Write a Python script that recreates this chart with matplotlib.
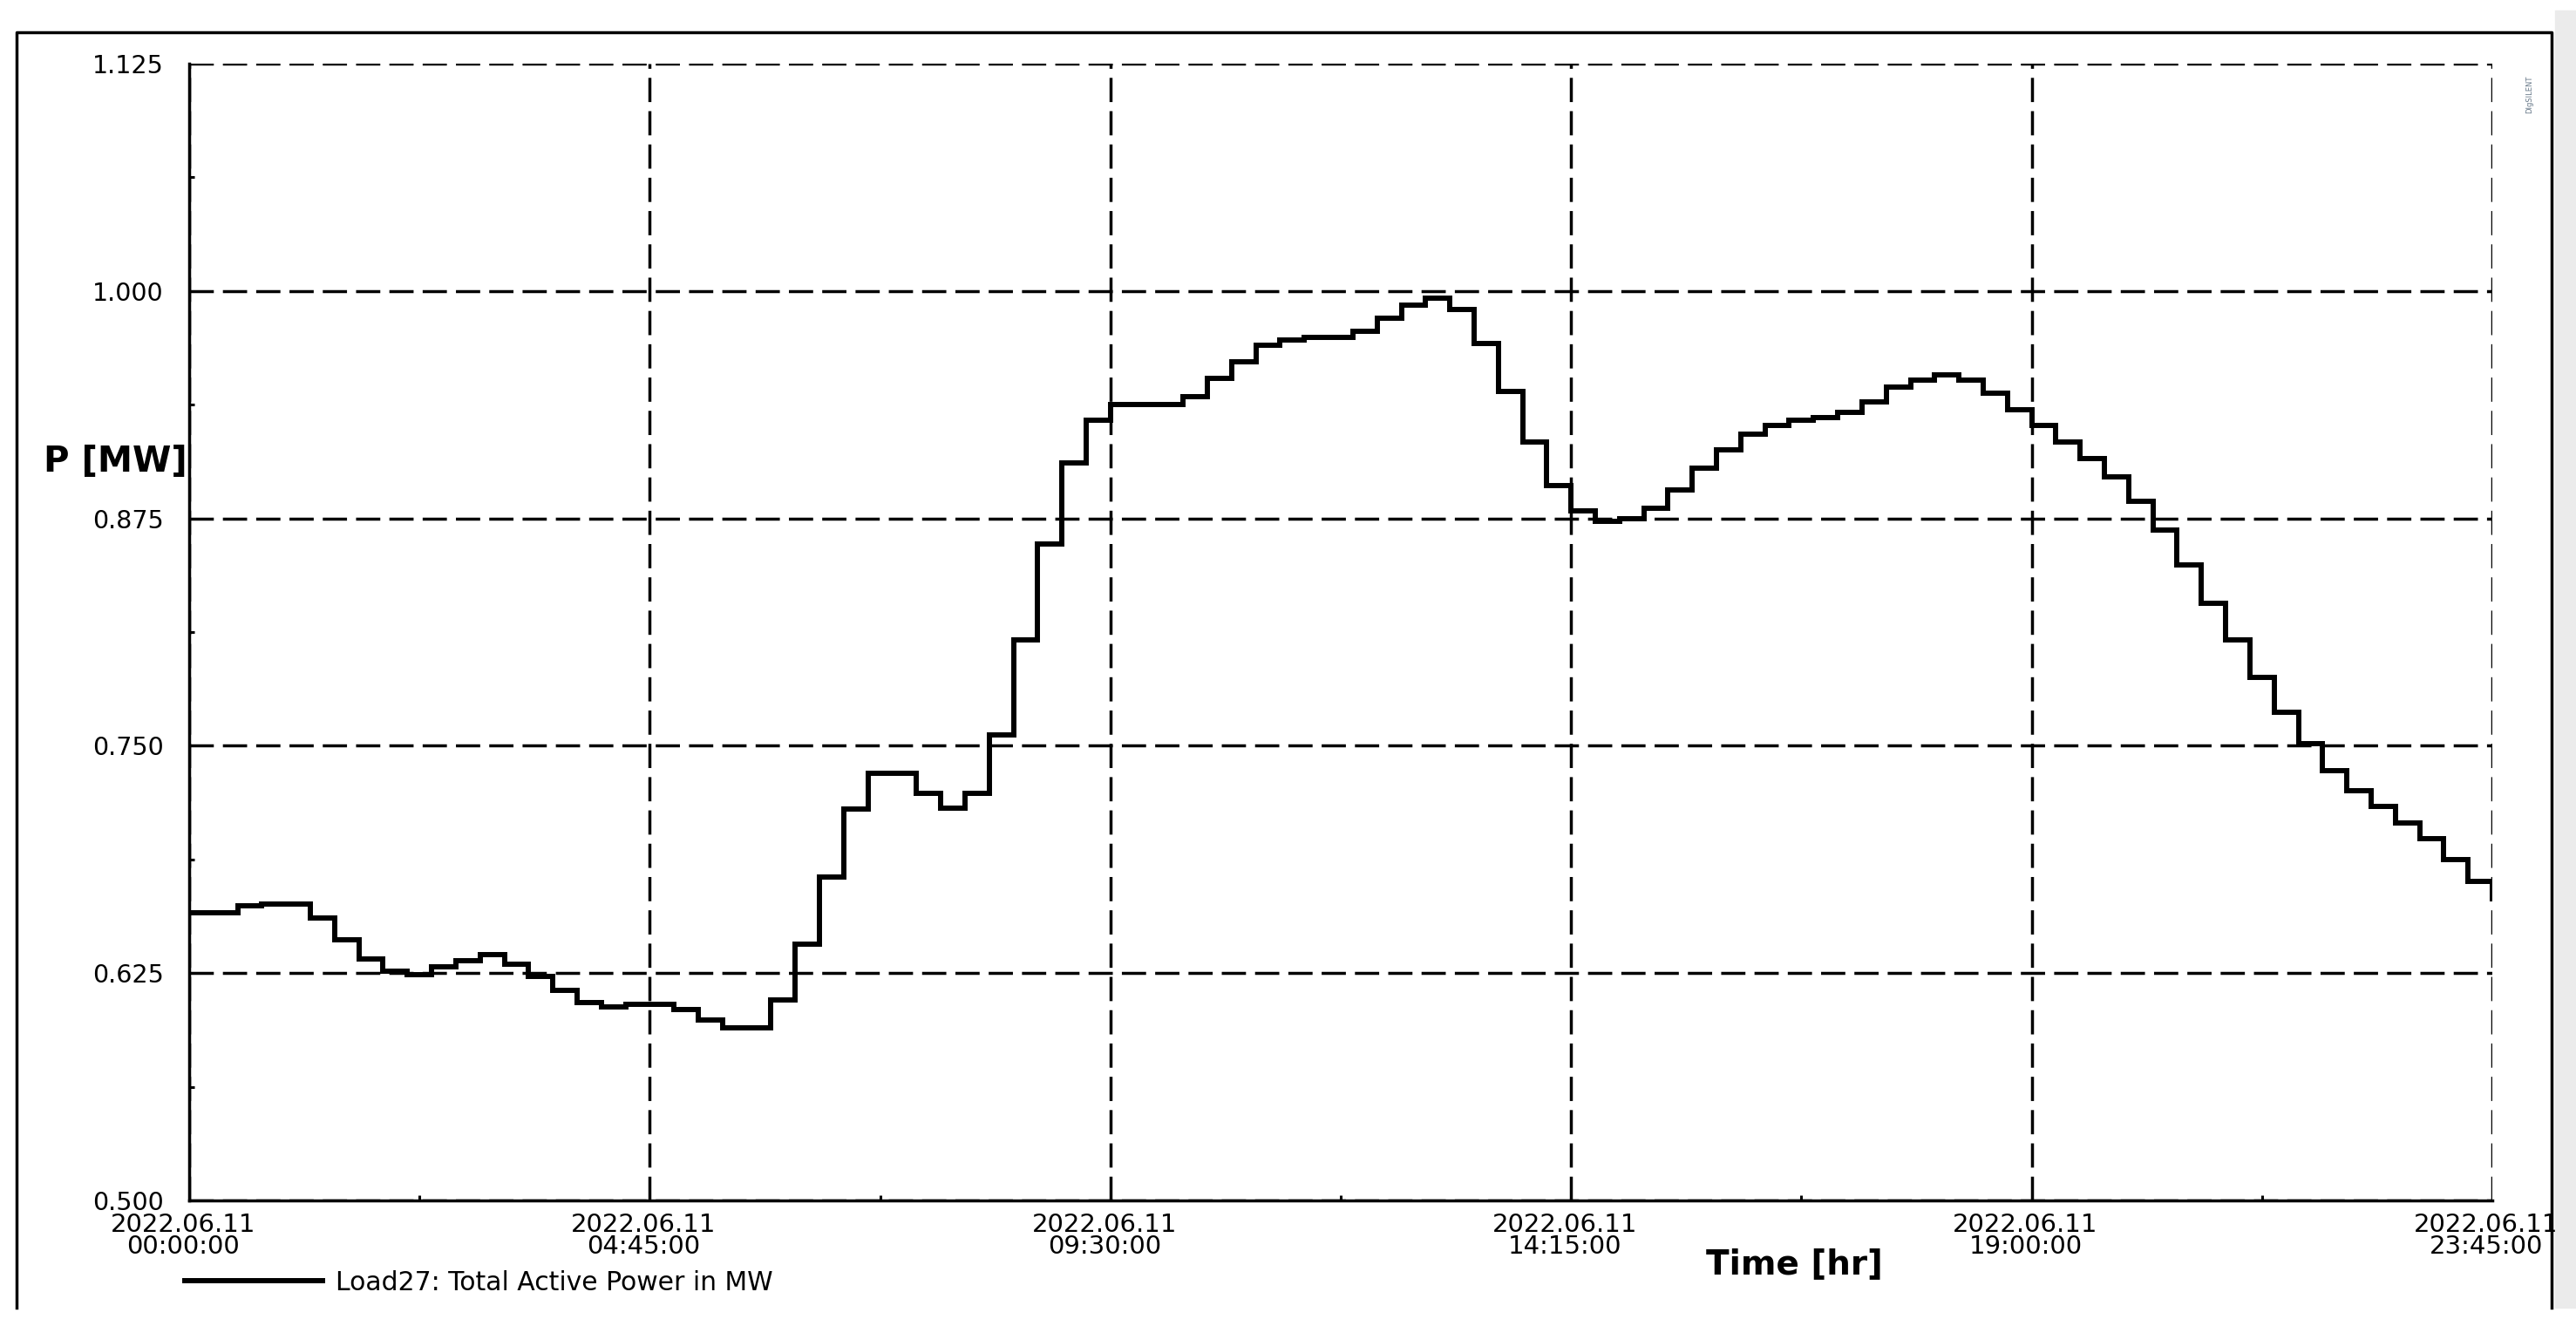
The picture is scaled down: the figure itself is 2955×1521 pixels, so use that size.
import numpy as np
import pandas as pd
import matplotlib
matplotlib.use("Agg")
import matplotlib.pyplot as plt
import matplotlib.dates as mdates
from matplotlib.lines import Line2D
from matplotlib.patches import Rectangle
from matplotlib.transforms import ScaledTranslation

# 15 min samples of Load27, 2022.06.11 00:00 .. 23:45
start_time = "2022-06-11 00:00"
n_samples = 96
power_mw = [
  0.658, 0.658, 0.662, 0.663, 0.663, 0.6555, 0.6435, 0.633,
  0.626, 0.624, 0.6285, 0.632, 0.635, 0.630, 0.623, 0.6156,
  0.609, 0.6065, 0.608, 0.608, 0.605, 0.599, 0.595, 0.595,
  0.610, 0.641, 0.678, 0.715, 0.735, 0.735, 0.724, 0.7155,
  0.724, 0.756, 0.808, 0.8607, 0.9056, 0.929, 0.9375, 0.9375,
  0.9375, 0.942, 0.952, 0.961, 0.970, 0.973, 0.9745, 0.9745,
  0.978, 0.985, 0.992, 0.996, 0.990, 0.971, 0.945, 0.917,
  0.893, 0.879, 0.8734, 0.8747, 0.8806, 0.8905, 0.9026, 0.9127,
  0.9215, 0.926, 0.929, 0.9306, 0.9335, 0.939, 0.947, 0.951,
  0.954, 0.951, 0.944, 0.9346, 0.9263, 0.917, 0.908, 0.898,
  0.8846, 0.8686, 0.8494, 0.8284, 0.8083, 0.7874, 0.7682, 0.7511,
  0.7361, 0.7254, 0.7165, 0.7073, 0.6987, 0.6874, 0.6752, 0.6656,
]
y_ticks = [0.500, 0.625, 0.750, 0.875, 1.000, 1.125]
legend_label = "Load27: Total Active Power in MW"

W, H = 2955, 1521


def fx(px):
  return px / W


def fy(py):
  return 1 - py / H


times = pd.date_range(start_time, periods=n_samples, freq="15min")
x_major = pd.date_range(times[0], times[-1], freq="285min")
x_minor = x_major[:-1] + pd.Timedelta(minutes=142.5)

fig = plt.figure(figsize=(W / 100, H / 100), dpi=100)
ax = fig.add_axes([fx(217), fy(1377), fx(2859) - fx(217), fy(73) - fy(1377)])

ax.step(times, power_mw, where="post", color="black", lw=4.3,
        solid_joinstyle="miter", label=legend_label)

ax.set_xlim(times[0], times[-1])
ax.set_ylim(y_ticks[0], y_ticks[-1])
ax.set_yticks(y_ticks)
ax.set_yticks([(a + b) / 2 for a, b in zip(y_ticks[:-1], y_ticks[1:])], minor=True)
ax.yaxis.set_major_formatter(plt.FormatStrFormatter("%.3f"))
ax.set_xticks(x_major)
ax.set_xticks(x_minor, minor=True)
ax.xaxis.set_major_formatter(mdates.DateFormatter("%Y.%m.%d\n%H:%M:%S"))

ax.grid(which="major", color="black", ls=(0, (8, 3)), lw=2.5)
for side in ["top", "right"]:
  ax.spines[side].set_visible(False)
for side in ["left", "bottom"]:
  ax.spines[side].set_linewidth(2.5)

ax.tick_params(which="major", length=0)
ax.tick_params(axis="y", which="major", labelsize=20.5, pad=21)
ax.tick_params(axis="x", which="major", labelsize=21, pad=10)
ax.tick_params(which="minor", direction="in", length=4.3, width=2.2, color="black")

shift = ScaledTranslation(-7 / 100, 0, fig.dpi_scale_trans)
for lab in ax.get_xticklabels():
  lab.set_linespacing(0.85)
  lab.set_transform(lab.get_transform() + shift)

fig.text(fx(215), fy(530), "P [MW]", ha="right", va="center",
         fontsize=29, fontweight="bold")
fig.text(fx(2058), fy(1461), "Time [hr]", ha="center", va="baseline",
         fontsize=28, fontweight="bold")

fig.legend(loc="center left", bbox_to_anchor=(fx(212), fy(1471)), frameon=False,
           fontsize=21.5, handlelength=5.3, handletextpad=0.5,
           borderpad=0, borderaxespad=0)

# outer frame and grey strip on the right
fig.add_artist(Rectangle((fx(2931), fy(1500)), 1 - fx(2931), fy(12) - fy(1500),
                         transform=fig.transFigure, color="#ebebeb", zorder=5))
fig.add_artist(Line2D([fx(19), fx(19), fx(2927), fx(2927)],
                      [fy(1500), fy(37), fy(37), fy(1500)],
                      transform=fig.transFigure, color="black", lw=2.5, zorder=6))

fig.text(fx(2902), fy(130), "DIgSILENT", rotation=90, fontsize=6,
         color="#667788", ha="center", va="bottom", zorder=7)

fig.savefig("out.png", dpi=100)
